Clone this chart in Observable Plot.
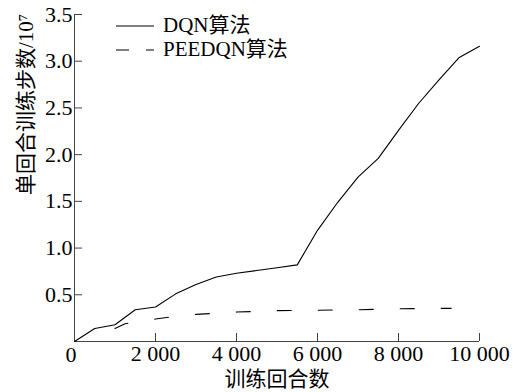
<!DOCTYPE html>
<html><head><meta charset="utf-8">
<script src="https://cdn.jsdelivr.net/npm/d3@7"></script>
<script src="https://cdn.jsdelivr.net/npm/@observablehq/plot@0.6"></script>
<style>
body{margin:0;background:#fff;}
#wrap{position:relative;width:513px;height:392px;}
#legend{position:absolute;left:0;top:0;}
#legend text{font-family:"Liberation Serif","Noto Sans CJK SC",serif;font-size:21px;}
</style></head><body>
<div id="wrap"></div>
<script>
const episodes = [0,500,1000,1500,2000,2500,3000,3500,4000,4500,5000,5500,6000,6500,7000,7500,8000,8500,9000,9500,10000];
const dqn = [0,0.14,0.18,0.34,0.37,0.51,0.61,0.69,0.73,0.76,0.79,0.82,1.19,1.49,1.76,1.96,2.26,2.55,2.80,3.04,3.16];
const peeEpisodes = [1000,1250,2000,2500,3000,4000,5000,6000,7000,8000,9300];
const peedqn = [0.14,0.19,0.24,0.27,0.29,0.315,0.33,0.335,0.34,0.35,0.355];
const xTicks = [2000,4000,6000,8000,10000];
const yTicks = [0.5,1.0,1.5,2.0,2.5,3.0,3.5];
const seriesNames = ["DQN算法","PEEDQN算法"];
const xLabel = "训练回合数";
const yLabel = "单回合训练步数/10⁷";

const dqnData = episodes.map((e,i)=>({x:e,y:dqn[i]}));
const peeData = peeEpisodes.map((e,i)=>({x:e,y:peedqn[i]}));
const fmt = d => d3.format(",")(d).replace(/,/g," ");

const font = '"Liberation Serif","Noto Sans CJK SC",serif';
const FS = 22;
const chart = Plot.plot({
  width:513, height:392,
  marginLeft:74, marginRight:34, marginTop:14, marginBottom:51,
  style:{fontFamily:font, fontSize:FS+"px", color:"#000", background:"#fff"},
  x:{domain:[0,10000]},
  y:{domain:[0,3.5]},
  marks:[
    Plot.axisX({ticks:xTicks, tickSize:0, tickPadding:4, tickFormat:fmt, label:null, fontSize:FS}),
    Plot.axisX({ticks:xTicks, tickSize:-8, text:null, label:null, stroke:"#444"}),
    Plot.axisY({ticks:yTicks, tickSize:0, tickPadding:2, tickFormat:d3.format(".1f"), label:null, fontSize:FS}),
    Plot.axisY({ticks:yTicks, tickSize:-8, text:null, label:null, stroke:"#444"}),
    Plot.ruleY([0],{stroke:"#444", strokeWidth:1}),
    Plot.ruleX([0],{stroke:"#444", strokeWidth:1}),
    Plot.text(["0"],{frameAnchor:"bottom-left", lineAnchor:"middle", dx:-9, dy:13, fontSize:FS, text:d=>d}),
    Plot.text([xLabel],{frameAnchor:"bottom", lineAnchor:"middle", dy:38, fontSize:21, text:d=>d}),
    Plot.text([yLabel],{frameAnchor:"left", lineAnchor:"middle", dx:-48, dy:17, rotate:-90, fontSize:21, text:d=>d}),
    Plot.line(dqnData,{x:"x",y:"y",stroke:"#000",strokeWidth:1.1}),
    Plot.line(peeData,{x:"x",y:"y",stroke:"#000",strokeWidth:1.1,strokeDasharray:"14,27"})
  ]
});
const wrap = document.getElementById("wrap");
wrap.appendChild(chart);
const leg = d3.select(wrap).append("svg").attr("id","legend").attr("width",513).attr("height",80);
const rows = [26,50];
seriesNames.forEach((n,i)=>{
  leg.append("line").attr("x1",116).attr("x2",154).attr("y1",rows[i]).attr("y2",rows[i])
    .attr("stroke","#000").attr("stroke-width",1.1).attr("stroke-dasharray", i? "13,17":null);
  leg.append("text").attr("x",163).attr("y",rows[i]).attr("dy","0.3em").text(n);
});
</script></body></html>
